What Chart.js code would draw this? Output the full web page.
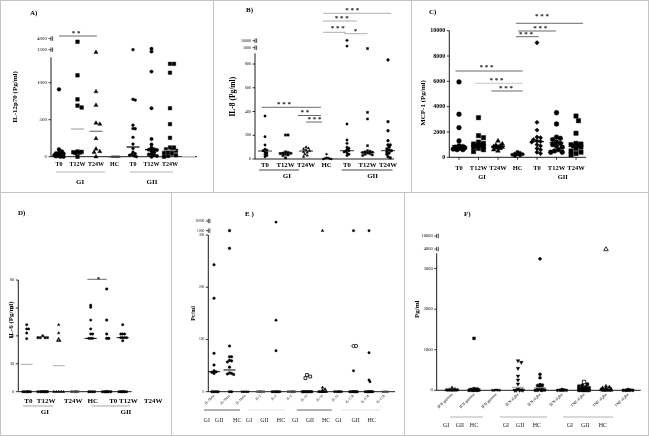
<!DOCTYPE html>
<html><head><meta charset="utf-8">
<script src="https://cdn.jsdelivr.net/npm/chart.js@4.4.0/dist/chart.umd.min.js"></script>
<style>
html,body{margin:0;padding:0;background:#fff;}
#wrap{position:relative;width:649px;height:436px;overflow:hidden;background:#fff;}
canvas{position:absolute;left:0;top:0;}
</style></head><body><div id="wrap">
<canvas id="frame" width="649" height="436"></canvas>
<canvas id="cA" width="649" height="436"></canvas>
<canvas id="cB" width="649" height="436"></canvas>
<canvas id="cC" width="649" height="436"></canvas>
<canvas id="cD" width="649" height="436"></canvas>
<canvas id="cE" width="649" height="436"></canvas>
<canvas id="cF" width="649" height="436"></canvas>
</div>
<script>
// ---------------- DATA ----------------
// Panel A: IL-12p70
const catsA = ["T0","T12W","T24W","HC","T0","T12W","T24W"];
const yLabelsA = ["0","500","1000","1500","4000"];
const valsA = [
  [910,100,70,55,45,40,30,25,20,15,10,5,0,0],
  [3300,1100,775,690,665,70,65,60,55,50,0],
  [1410,880,695,455,440,245,105,70,60,0],
  [0,0,0,0],
  [1500,775,765,425,380,378,262,170,110,60,40,30,20,10,0],
  [1700,1420,1150,655,240,165,120,100,95,90,80,60,40,30,20,10,0],
  [1255,1255,1135,655,440,255,125,125,100,90,80,60,50,40,20,10,0]
];
const medA = [null,374,343,0,131,95,86,0];

// Panel B: IL-8
const catsB = ["T0","T12W","T24W","HC","T0","T12W","T24W"];
const yLabelsB = ["0","200","400","600","800","1000","10000"];
const valsB = [
  [362,188,118,82,75,70,60,50,40,30,20],
  [202,202,60,55,50,48,45,40,35,30,10],
  [100,90,85,75,70,60,55,40,30,20],
  [40,10,8,5,3,0,0],
  [10500,3100,295,160,132,100,90,80,70,65,60,50,40,30],
  [930,393,337,112,70,65,60,58,55,50,45,40,35,30],
  [834,314,238,154,118,118,100,85,75,70,60,50,40,20,10]
];
const medB = [67,50,67,null,70,56,70];

// Panel C: MCP-1
const catsC = ["T0","T12W","T24W","HC","T0","T12W","T24W"];
const yLabelsC = ["0","2000","4000","6000","8000","10000"];
const valsC = [
  [5950,3400,2340,1290,900,850,800,780,750,700,650,600,600],
  [3130,1710,1550,1200,1100,1050,1000,950,900,850,800,700,600,450],
  [1290,1050,950,900,850,820,800,750,700,600,500],
  [440,350,300,250,220,200,150,100],
  [9050,2760,2150,1600,1550,1400,1300,1250,1200,1000,900,700,600,400,300],
  [3520,2630,1600,1500,1400,1200,1100,1000,900,800,600,500,400,400],
  [3260,2890,1900,1100,1050,1000,950,900,800,700,500,400,300,200]
];
const medC = [920,1030,870,250,1230,1150,1000];

// Panel D: IL-6
const catsD = ["T0","T12W","T24W","HC","T0","T12W","T24W"];
const yLabelsD = ["0","20","40","60","80"];
const valsD = [
  [48,45,45,42,38,0,0,0,0,0,0],
  [40,38.7,38.7,38.7,38.7,0,0,0,0,0,0,0,0],
  [48,42,38,36.5,36.5,0,0,0,0,0],
  [0,0,0,0,0,0],
  [62,60.5,51.3,45,41.3,41.3,38.2,38.2,38.2,0,0,0,0],
  [73.6,51.3,41.3,38.2,38.2,0,0,0,0,0,0,0],
  [48,41.3,41.3,41.3,38.7,38.7,38.7,38.7,36.5,0,0,0,0,0,0,0]
];
const medD = [19.6,null,18.6,null,38.2,null,38.7];

// Panel E
const catsE = ["IL-1beta","IL-1beta","IL-1beta","IL-2","IL-2","IL-2","IL-10","IL-10","IL-10","IL-17A","IL-17A","IL-17A"];
const groupsE = ["GI","GII","HC","GI","GII","HC","GI","GII","HC","GI","GII","HC"];
const yLabelsE = ["0","100","200","300","1000","10000"];
const valsE = [
  [243,179,73.5,51,40,38,37,35,0,0,0,0],
  [1000,274.5,87.5,67,67,60,59,57,47,36,35,34,33,0,0],
  [0,0,0,0,0],
  [0,0,0,0,0,0,0],
  [9000,137,78.5,0,0,0,0,0,0],
  [0,0,0,0,0,0],
  [0,0,0,0,0,0,0,0,0],
  [1000,8,5,3,0,0,0,0,0,0,0,0],
  [0,0,0,0,0,0],
  [1000,40,0,0,0,0,0,0,0,0],
  [1000,74.7,22.4,19.2,0,0,0,0,0,0,0,0],
  [0,0,0,0]
];
const openE = [[],[],[],[],[],[],[32,29,26],[],[],[87.5,87.5],[],[]];
const medE = [38.3,41.6,null,null,null,null,null,null,null,null,null,null];

// Panel F
const catsF = ["IFN-gamma","IFN-gamma","IFN-gamma","IFN-alpha","IFN-alpha","IFN-alpha","TNF-alpha","TNF-alpha","TNF-alpha"];
const groupsF = ["GI","GII","HC","GI","GII","HC","GI","GII","HC"];
const yLabelsF = ["0","1000","2000","3000","4000","10000"];
const valsF = [
  [64,30,20,15,10,5,0,0,0,0],
  [1280,40,30,20,10,5,0,0,0,0],
  [10,5,0,0,0],
  [730,690,540,352,254,155,30,10,0,0,0,0],
  [3240,394,311,140,130,120,80,60,40,20,10,0,0,0,0],
  [20,10,5,0,0,0,0],
  [150,120,100,80,60,50,40,30,20,10,0,0,0,0,0,0],
  [100,80,60,40,30,20,10,0,0,0,0,0],
  [20,10,0,0,0,0,0]
];
const openF = [[],[],[],[],[],[],[205],[3950],[]];
const medF = [null,null,null,74,64,null,null,null,null];

// ---------------- DRAWING ----------------
const W = 649, H = 436;
const SERIF = '"Liberation Serif", "DejaVu Serif", serif';

function seg(c,x1,y1,x2,y2,col,w){c.beginPath();c.strokeStyle=col;c.lineWidth=w;c.moveTo(x1,y1);c.lineTo(x2,y2);c.stroke();}
function txt(c,s,x,y,font,col,align,rot){c.save();c.font=font;c.fillStyle=col||'#000';c.textAlign=align||'center';c.textBaseline='middle';c.translate(x,y);if(rot)c.rotate(rot);c.fillText(s,0,0);c.restore();}

// frame
(function(){
  const c = document.getElementById('frame').getContext('2d');
  const col = '#c4c4c4';
  c.strokeStyle = col; c.lineWidth = 1;
  c.strokeRect(0.5,0.5,W-1,H-1);
  seg(c,0,192.5,W,192.5,col,1);
  seg(c,213.5,0,213.5,192.5,col,1);
  seg(c,411.5,0,411.5,192.5,col,1);
  seg(c,171.5,192.5,171.5,H,col,1);
  seg(c,404.5,192.5,404.5,H,col,1);
})();

function makePanel(P){
  const tf = P.tf || (v=>v);
  P.xmin = 1 + (P.l - P.x1)/P.sp;
  P.xmax = 1 + (P.r - P.x1)/P.sp;
  const t = P.b - P.ymax*P.ppu;
  const YW = P.YW || 30, XH = 40;
  const datasets = [];
  P.vals.forEach((col,ci)=>{
    const st = P.styles[ci];
    datasets.push({col:ci+1, clip:false, data: col.map(v=>({x:ci+1,y:tf(v)})),
      pointStyle:st.s, pointRadius:st.r, pointRotation:st.rot||0,
      pointBackgroundColor:st.c||'#000', pointBorderColor:st.c||'#000', pointBorderWidth:0.4});
    if (P.open && P.open[ci] && P.open[ci].length){
      const os = P.openStyles[ci];
      datasets.push({col:ci+1, clip:false, data: P.open[ci].map(v=>({x:ci+1,y:tf(v)})),
        pointStyle:os.s, pointRadius:os.r, pointRotation:0,
        pointBackgroundColor:'#fff', pointBorderColor:'#000', pointBorderWidth:0.8});
    }
  });
  const ann = {
    id:'ann'+P.id,
    beforeDatasetsDraw(chart){
      const c = chart.ctx, X=v=>chart.scales.x.getPixelForValue(v), Y=v=>chart.scales.y.getPixelForValue(v);
      const x0 = X(P.xmin), y0 = Y(0);
      c.save();
      seg(c,x0,y0,x0,Y(P.yTop),'#000',0.9);
      seg(c,x0,y0,P.axisR||P.r,y0,'#000',0.9);
      P.yTicks.forEach((v,i)=>{
        const y = Y(v);
        if (P.breakFrom!=null && i>=P.breakFrom){
          seg(c,x0-2.5,y,x0,y,'#000',0.7);
          seg(c,x0,y-2.2,x0,y+2.2,'#000',0.7);
          seg(c,x0+1.6,y-2.2,x0+1.6,y+2.2,'#000',0.7);
        } else seg(c,x0-2.5,y,x0,y,'#000',0.8);
      });
      if (P.xTickMarks) P.xTicks.forEach(v=>seg(c,X(v),y0,X(v),y0+2.5,'#000',0.8));
      c.restore();
    },
    afterDatasetsDraw(chart){
      const c = chart.ctx, X=v=>chart.scales.x.getPixelForValue(v), Y=v=>chart.scales.y.getPixelForValue(v);
      c.save();
      (P.med||[]).forEach((m,i)=>{
        if (m==null) return;
        const xc = X(i+1), y = Y(tf(m));
        seg(c,xc-P.medHalf,y,xc+P.medHalf,y,(P.medColors&&P.medColors[i])||'#000',P.medW||1);
      });
      (P.sig||[]).forEach(s=>{
        seg(c,X(s.x1),s.y,X(s.x2),s.y,s.c||'#444',0.8);
        txt(c,s.t,X(s.tx),s.ty,P.starFont||('bold 7px '+SERIF),'#111');
      });
      (P.glines||[]).forEach(g=>seg(c,X(g.x1),g.y,X(g.x2),g.y,g.c||'#999',0.9));
      (P.gtext||[]).forEach(g=>txt(c,g.t,X(g.x),g.y,P.gfont,P.gcol||'#000'));
      if (P.title) txt(c,P.title.t,P.title.x,P.title.y,'bold 7px '+SERIF,'#000','left');
      if (P.ytitle) txt(c,P.ytitle.t,P.ytitle.x,P.ytitle.y,P.ytitle.f,'#000','center',-Math.PI/2);
      c.restore();
    }
  };
  const ch = new Chart(document.getElementById(P.id),{
    type:'scatter',
    data:{datasets},
    options:{
      responsive:false, animation:false, devicePixelRatio:1, events:[],
      layout:{autoPadding:false, padding:{left:P.l-YW, right:W-P.r, top:t, bottom:H-P.b-XH}},
      plugins:{legend:{display:false}, tooltip:{enabled:false}},
      scales:{
        x:{type:'linear', min:P.xmin, max:P.xmax, border:{display:false},
           grid:{display:false, drawTicks:false},
           afterFit:s=>{s.height=XH;},
           afterBuildTicks:s=>{s.ticks=P.xTicks.map(v=>({value:v}));},
           ticks:{autoSkip:false, callback:(v,i)=>P.xLabels[i], font:P.xFont, color:'#000',
                  padding:P.xPad, maxRotation:P.xRot||0, minRotation:P.xRot||0}},
        y:{type:'linear', min:0, max:P.ymax, border:{display:false},
           grid:{display:false, drawTicks:false},
           afterFit:s=>{s.width=YW;},
           afterBuildTicks:s=>{s.ticks=P.yTicks.map(v=>({value:v}));},
           ticks:{autoSkip:false, callback:(v,i)=>P.yLabels[i], font:P.yFont, color:'#000', padding:P.yPad||4}}
      }
    },
    plugins:[ann]
  });
  // beeswarm placement of points within each column (limited width), computed from the scales
  const xs = ch.scales.x, ys = ch.scales.y;
  const ppc = xs.getPixelForValue(2) - xs.getPixelForValue(1);
  const maxOff = P.maxOff || 6;
  const byCol = {};
  ch.data.datasets.forEach(ds=>ds.data.forEach(pt=>{
    (byCol[ds.col] = byCol[ds.col] || []).push({pt, r:ds.pointRadius, y:ys.getPixelForValue(pt.y)});
  }));
  Object.values(byCol).forEach(pts=>{
    pts.sort((a,b)=>a.y-b.y);
    const placed = [];
    pts.forEach(p=>{
      const step = Math.max(p.r,1)*0.8;
      let best = 0, bestScore = -1;
      for (let k=0;k<200;k++){
        const off = k===0?0:(k%2?1:-1)*Math.ceil(k/2)*step;
        if (Math.abs(off) > maxOff) break;
        let minRatio = 99;
        for (const q of placed){
          const d = (p.r+q.r)*(P.sep||0.8), dx = off-q.off, dy = p.y-q.y;
          minRatio = Math.min(minRatio, Math.sqrt(dx*dx+dy*dy)/d);
        }
        if (minRatio >= 1){best = off; bestScore = 99; break;}
        if (minRatio > bestScore + 0.05){bestScore = minRatio; best = off;}
      }
      p.off = best;
      placed.push(p);
      p.pt.x = p.pt.x + p.off/ppc;
    });
  });
  ch.update('none');
  return ch;
}

const fnt = (s,b)=>({family:SERIF, size:s, weight:b?'bold':'normal'});

// Panel A
makePanel({
  id:'cA', x1:59, sp:18.5, l:51, r:197, b:156.7, ppu:0.074, ymax:1631, yTop:1343, maxOff:6,
  tf: v => v<=1446 ? v : (v<1500 ? 1446 : 1446+(v-1500)*149/2500),
  yTicks:[0,500,1000,1446,1595], yLabels:yLabelsA, breakFrom:3, yFont:fnt(5), yPad:4,
  xTicks:[1,2,3,4,5,6,7], xLabels:catsA, xFont:fnt(6,true), xPad:4.5,
  vals:valsA,
  styles:[{s:'circle',r:1.9},{s:'rect',r:2.6},{s:'triangle',r:2.4},{s:'rect',r:1.3,c:'#333'},{s:'circle',r:1.4},{s:'circle',r:1.7},{s:'rect',r:2.5}],
  med:medA, medHalf:6.5, medW:1.2, medColors:[null,'#aaa','#777','#444','#000','#000','#888','#ccc'],
  sig:[{x1:1,x2:3.05,y:36,t:'* *',tx:1.92,ty:33}],
  glines:[{x1:0.84,x2:3.49,y:172,c:'#aaa'},{x1:4.84,x2:7.16,y:172,c:'#aaa'}],
  gtext:[{x:2.14,y:182,t:'GI'},{x:6.03,y:182,t:'GII'}], gfont:'bold 7px '+SERIF,
  title:{t:'A)',x:30,y:13}, ytitle:{t:'IL-12p70 (Pg/ml)',x:15,y:97,f:'bold 7px '+SERIF}
});

// Panel B
makePanel({
  id:'cB', x1:265, sp:20.5, l:255, r:394, b:159, ppu:0.11875, ymax:1036, yTop:890, maxOff:6,
  tf: v => v<=937 ? v : (v<1000 ? 937 : 937+(v-1000)*59/9000),
  yTicks:[0,200,400,600,800,937,996], yLabels:yLabelsB, breakFrom:5, yFont:fnt(4), yPad:4,
  xTicks:[1,2,3,4,5,6,7], xLabels:catsB, xFont:fnt(6.8,true), xPad:2,
  vals:valsB,
  styles:[{s:'circle',r:1.2},{s:'rect',r:1.6},{s:'triangle',r:1.5},{s:'circle',r:1},{s:'circle',r:1.2},{s:'rect',r:1.5},{s:'circle',r:1.4}],
  med:medB, medHalf:7, medW:0.8,
  sig:[
    {x1:0.84,x2:3.73,y:107.3,t:'* * *',tx:1.93,ty:104},
    {x1:2.6,x2:3.73,y:115.5,t:'* *',tx:2.95,ty:112},
    {x1:3.0,x2:3.78,y:122,t:'* * *',tx:3.42,ty:118.7},
    {x1:3.84,x2:7.15,y:13.3,t:'* * *',tx:5.26,ty:10,c:'#999'},
    {x1:3.83,x2:5.47,y:21,t:'* * *',tx:4.74,ty:17.7,c:'#999'},
    {x1:3.83,x2:4.94,y:32.3,t:'* * *',tx:4.55,ty:28.5,c:'#999'},
    {x1:4.85,x2:6.0,y:33.7,t:'*',tx:5.41,ty:31,c:'#999'}
  ],
  glines:[{x1:0.71,x2:2.66,y:170,c:'#333'},{x1:4.74,x2:7.22,y:170,c:'#333'}],
  gtext:[{x:2.07,y:176,t:'GI'},{x:6.25,y:176,t:'GII'}], gfont:'bold 7px '+SERIF,
  title:{t:'B)',x:246,y:10}, ytitle:{t:'IL-8 (Pg/ml)',x:232.7,y:96.7,f:'bold 7.5px '+SERIF}
});

// Panel C
makePanel({
  id:'cC', x1:459, sp:19.5, l:449.3, r:586, b:157.3, ppu:0.01266, ymax:10000, yTop:10000, maxOff:6,
  yTicks:[0,2000,4000,6000,8000,10000], yLabels:yLabelsC, yFont:fnt(6,true), yPad:4,
  xTicks:[1,2,3,4,5,6,7], xLabels:catsC, xFont:fnt(6.5,true), xPad:7, xTickMarks:true,
  vals:valsC,
  styles:[{s:'circle',r:2.4},{s:'rect',r:3.1},{s:'triangle',r:2.7},{s:'circle',r:1.6},{s:'rectRot',r:2.2},{s:'circle',r:2.4},{s:'rect',r:3.1}],
  med:medC, medHalf:7, medW:1,
  sig:[
    {x1:0.82,x2:4.27,y:71,t:'* * *',tx:2.41,ty:66.7},
    {x1:1.82,x2:4.27,y:83.3,t:'* * *',tx:2.92,ty:80,c:'#bbb'},
    {x1:2.66,x2:4.27,y:91,t:'* * *',tx:3.41,ty:88},
    {x1:3.92,x2:7.36,y:23.3,t:'* * *',tx:5.26,ty:16},
    {x1:4.03,x2:5.97,y:31,t:'* * *',tx:5.17,ty:28},
    {x1:3.92,x2:5.09,y:36.7,t:'* * *',tx:4.44,ty:34}
  ],
  gtext:[{x:2.18,y:177.7,t:'GI'},{x:6.32,y:177.7,t:'GII'}], gfont:'bold 6.5px '+SERIF,
  title:{t:'C)',x:429,y:11.7}, ytitle:{t:'MCP-1 (Pg/ml)',x:422.7,y:103,f:'bold 7px '+SERIF}
});

// Panel D
makePanel({
  id:'cD', x1:26.7, sp:16, l:18.3, r:165, axisR:131.7, b:391.7, ppu:1.396, ymax:80, yTop:80, YW:14, maxOff:5,
  yTicks:[0,20,40,60,80], yLabels:yLabelsD, yFont:fnt(4), yPad:4,
  xTicks:[1.1,2.21,3.91,5.13,6.41,7.35,8.91], xLabels:catsD, xFont:fnt(7,true), xPad:5.5,
  vals:valsD,
  styles:[{s:'circle',r:1.2},{s:'rect',r:1.5},{s:'triangle',r:1.5},{s:'circle',r:1.1,c:'#444'},{s:'circle',r:1.2},{s:'circle',r:1.3},{s:'circle',r:1.2}],
  med:medD, medHalf:6, medW:1, medColors:['#aaa',null,'#aaa',null,'#000',null,'#000'],
  sig:[{x1:4.79,x2:6.0,y:279.3,t:'*',tx:5.48,ty:279,c:'#444'}],
  glines:[{x1:0.77,x2:2.64,y:406,c:'#999'},{x1:5.06,x2:7.46,y:406,c:'#999'}],
  gtext:[{x:2.14,y:411.7,t:'GI'},{x:7.2,y:411.7,t:'GII'}], gfont:'bold 7px '+SERIF,
  title:{t:'D)',x:18,y:213}, ytitle:{t:'IL-6 (Pg/ml)',x:11,y:320,f:'bold 7px '+SERIF}
});

// Panel E
makePanel({
  id:'cE', x1:214, sp:15.5, l:208.3, r:395, b:391.7, ppu:0.5223, ymax:338, yTop:300, maxOff:5,
  tf: v => v<=300 ? v : (v<1000 ? 300+(v-300)*8.3/700 : 308.3+(v-1000)*18.5/9000),
  yTicks:[0,100,200,300,308.3,326.8], yLabels:yLabelsE, breakFrom:4, yFont:fnt(3.6), yPad:4,
  xTicks:[1,2,3,4,5,6,7,8,9,10,11,12], xLabels:catsE, xFont:fnt(3.6), xPad:2, xRot:45,
  vals:valsE, open:openE,
  styles:[{s:'circle',r:1.3},{s:'circle',r:1.3},{s:'circle',r:1},{s:'circle',r:1.1,c:'#555'},{s:'circle',r:1.2},{s:'circle',r:1.1,c:'#444'},{s:'rect',r:1.5},{s:'triangle',r:1.6},{s:'circle',r:1.1},{s:'circle',r:1.2},{s:'circle',r:1.2},{s:'circle',r:1,c:'#444'}],
  openStyles:{6:{s:'rect',r:2},9:{s:'circle',r:1.6}},
  med:medE, medHalf:6, medW:1,
  glines:[{x1:0.35,x2:2.68,y:410,c:'#555'},{x1:3.19,x2:5.58,y:410,c:'#ddd'},{x1:6.34,x2:8.6,y:410,c:'#555'},{x1:9.24,x2:11.71,y:410,c:'#ddd'}],
  gtext:[
    {x:0.53,y:420,t:'GI'},{x:1.32,y:420,t:'GII'},{x:2.5,y:420,t:'HC'},
    {x:3.26,y:420,t:'GI'},{x:4.25,y:420,t:'GII'},{x:5.32,y:420,t:'HC'},
    {x:6.23,y:420,t:'GI'},{x:7.19,y:420,t:'GII'},{x:8.23,y:420,t:'HC'},
    {x:9.02,y:420,t:'GI'},{x:10.14,y:420,t:'GII'},{x:11.17,y:420,t:'HC'}
  ], gfont:'6px '+SERIF, gcol:'#222',
  title:{t:'E )',x:245,y:214}, ytitle:{t:'Pc/ml',x:193.3,y:313.3,f:'bold 6px '+SERIF}
});

// Panel F
makePanel({
  id:'cF', x1:452, sp:22, l:436.7, r:640.7, b:390.3, ppu:0.04057, ymax:4074, yTop:3377, maxOff:6,
  tf: v => v<=3377 ? v : (v<4000 ? 3377+(v-3377)*105/623 : 3482+(v-4000)*321/6000),
  yTicks:[0,1000,2000,3000,3482,3803], yLabels:yLabelsF, breakFrom:4, yFont:fnt(4.5), yPad:4,
  xTicks:[1,2,3,4,5,6,7,8,9], xLabels:catsF, xFont:fnt(4), xPad:2, xRot:45,
  vals:valsF, open:openF,
  styles:[{s:'triangle',r:1.8},{s:'rect',r:2},{s:'circle',r:1.1},{s:'triangle',r:2.1,rot:180},{s:'circle',r:1.5},{s:'circle',r:1.4},{s:'rect',r:2.1},{s:'triangle',r:2.1},{s:'circle',r:1.5}],
  openStyles:{6:{s:'rect',r:2.4},7:{s:'triangle',r:2.6}},
  med:medF, medHalf:6, medW:1, medColors:[null,null,null,'#999','#999'],
  glines:[{x1:0.91,x2:2.41,y:417,c:'#aaa'},{x1:3.18,x2:5.32,y:417,c:'#aaa'},{x1:6.05,x2:8.32,y:417,c:'#aaa'}],
  gtext:[
    {x:0.73,y:425,t:'GI'},{x:1.36,y:425,t:'GII'},{x:2.0,y:425,t:'HC'},
    {x:3.45,y:425,t:'GI'},{x:4.09,y:425,t:'GII'},{x:4.86,y:425,t:'HC'},
    {x:6.36,y:425,t:'GI'},{x:7.05,y:425,t:'GII'},{x:7.86,y:425,t:'HC'}
  ], gfont:'6px '+SERIF, gcol:'#222',
  title:{t:'F)',x:464,y:214}, ytitle:{t:'Pg/ml',x:416.7,y:309.3,f:'bold 7px '+SERIF}
});
</script></body></html>
